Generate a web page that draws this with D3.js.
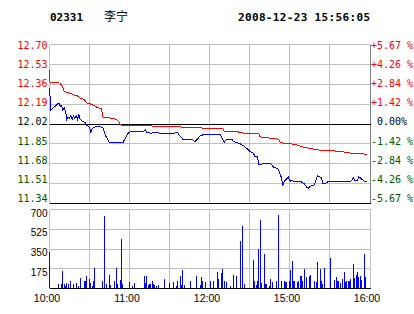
<!DOCTYPE html>
<html>
<head>
<meta charset="utf-8">
<script src="https://cdn.jsdelivr.net/npm/d3@7"></script>
<style>
	body { margin: 0; background: #fff; }
	svg { display: block; }
</style>
</head>
<body>
<svg id="chart"></svg>
<script>
const stockCode = "02331";
const stockName = "李宁";
const stamp = "2008-12-23 15:56:05";
const prevClose = 12.02;

const priceTicks = [12.70, 12.53, 12.36, 12.19, 12.02, 11.85, 11.68, 11.51, 11.34];
const pctLabels = ["+5.67 %", "+4.26 %", "+2.84 %", "+1.42 %", " 0.00%", "-1.42 %", "-2.84 %", "-4.26 %", "-5.67 %"];
const volTicks = [175, 350, 525, 700];
const timeTicks = [0, 60, 120, 180, 240];
const timeLabels = ["10:00", "11:00", "12:00", "15:00", "16:00"];

// [trading minute since 10:00, price]
const priceLine = [[0,12.33],[1,12.14],[7,12.20],[8,12.17],[9,12.18],[10,12.14],[11,12.16],[12,12.13],[13,12.06],[14,12.08],
	[15,12.07],[16,12.09],[17,12.06],[18,12.09],[19,12.07],[20,12.09],[21,12.06],[22,12.10],[23,12.06],[25,12.04],
	[27,12.03],[28,12.01],[30,11.99],[31,11.95],[32,11.98],[33,11.99],[35,12.00],[37,12.00],[40,11.99],[41,11.96],
	[42,11.92],[43,11.90],[45,11.86],[55,11.86],[57,11.90],[59,11.94],[61,11.96],[71,11.96],[72,11.97],[73,11.95],
	[76,11.94],[78,11.95],[81,11.95],[83,11.94],[93,11.94],[96,11.95],[97,11.93],[100,11.89],[107,11.89],[109,11.87],
	[111,11.89],[113,11.92],[116,11.93],[128,11.93],[129,11.91],[131,11.86],[132,11.88],[133,11.89],[137,11.89],[138,11.87],
	[141,11.86],[143,11.85],[146,11.83],[148,11.81],[151,11.78],[153,11.77],[154,11.74],[156,11.74],[157,11.67],[158,11.67],
	[160,11.68],[166,11.68],[167,11.67],[168,11.65],[171,11.64],[172,11.62],[173,11.59],[174,11.56],[175,11.49],[176,11.53],
	[178,11.55],[179,11.57],[180,11.54],[181,11.53],[182,11.54],[183,11.53],[188,11.53],[191,11.51],[193,11.48],[194,11.47],
	[196,11.49],[198,11.49],[199,11.51],[201,11.58],[202,11.57],[204,11.56],[205,11.51],[207,11.51],[209,11.53],[226,11.53],
	[228,11.56],[229,11.54],[231,11.54],[232,11.57],[233,11.56],[236,11.53],[238,11.53]];

const avgLine = [[0,12.48],[0,12.38],[8,12.37],[10,12.33],[11,12.30],[13,12.29],[16,12.28],[18,12.27],[21,12.26],[23,12.24],
	[26,12.23],[28,12.20],[31,12.19],[33,12.18],[36,12.16],[39,12.15],[40,12.08],[46,12.07],[50,12.06],[52,12.04],
	[53,12.02],[54,12.01],[76,12.01],[77,12.00],[98,12.00],[99,11.99],[114,11.99],[115,11.98],[130,11.98],[131,11.96],
	[141,11.96],[142,11.95],[146,11.94],[157,11.94],[158,11.91],[172,11.89],[173,11.86],[181,11.85],[186,11.84],[191,11.82],
	[196,11.81],[201,11.80],[206,11.79],[213,11.79],[221,11.78],[226,11.77],[231,11.77],[238,11.76]];

const volume = [[0,315],[7,35],[9,35],[10,147],[11,35],[12,20],[13,44],[14,35],[16,65],[18,35],[20,44],[22,22],[23,88],
	[26,65],[27,65],[28,103],[30,82],[31,47],[32,20],[33,59],[34,177],[40,59],[41,640],[43,38],[45,118],[46,29],[49,65],
	[50,177],[51,35],[53,73],[54,434],[55,35],[60,50],[62,20],[64,44],[71,109],[72,44],[73,109],[74,29],[75,38],[76,38],
	[77,65],[78,35],[79,29],[80,20],[82,29],[86,79],[90,44],[93,50],[95,20],[96,59],[98,109],[99,25],[100,162],[101,29],
	[106,59],[110,109],[113,29],[114,97],[115,65],[117,50],[121,65],[123,65],[126,141],[127,79],[129,133],[130,171],[131,65],
	[133,50],[136,20],[138,118],[140,109],[143,413],[145,552],[146,38],[153,251],[154,65],[155,29],[156,65],[157,345],
	[158,605],[159,44],[161,304],[162,35],[163,35],[165,20],[166,79],[167,50],[170,59],[172,649],[174,59],[176,59],[177,50],
	[178,50],[180,59],[181,162],[182,236],[183,59],[184,65],[186,50],[187,59],[188,109],[189,103],[190,65],[191,171],[193,94],
	[195,103],[196,118],[199,59],[200,50],[201,227],[203,171],[204,65],[205,38],[206,180],[211,268],[214,73],[215,97],
	[216,59],[217,65],[218,44],[220,79],[221,138],[222,50],[223,59],[224,65],[225,59],[226,79],[228,215],[229,88],[230,118],
	[231,138],[232,94],[233,109],[234,73],[236,304],[237,97]];

const width = 414, height = 314;
const left = 49.5, right = 370.5;
const grey = "#c0c0c0", red = "#ff0000", green = "#005500", blue = "#0000ff";

const svg = d3.select("#chart")
	.attr("width", width)
	.attr("height", height);

const x = d3.scaleLinear().domain([0, 240]).range([49.5, 369.5]);
const y = d3.scaleLinear().domain([11.34, 12.70]).range([203.5, 44.5]);
const yLab = d3.scaleLinear().domain([11.34, 12.70]).range([198.3, 45.3]);
const v = d3.scaleLinear().domain([0, 700]).range([288.5, 209.5]);

const priceColor = p => p > prevClose ? red : (p < prevClose ? green : "#000");

// header
svg.append("text")
	.attr("x", 50).attr("y", 20.5)
	.attr("font-family", "DejaVu Sans Mono").attr("font-weight", "bold").attr("font-size", "11px")
	.text(stockCode);
svg.append("text")
	.attr("x", 104).attr("y", 20.5)
	.attr("font-family", "Noto Sans CJK SC").attr("font-size", "12px")
	.text(stockName);
svg.append("text")
	.attr("x", 370).attr("y", 20.5)
	.attr("text-anchor", "end")
	.attr("font-family", "DejaVu Sans Mono").attr("font-weight", "bold").attr("font-size", "11px")
	.attr("textLength", 132).attr("lengthAdjust", "spacing")
	.text(stamp);

const grid = svg.append("g").attr("shape-rendering", "crispEdges");

// price grid
grid.selectAll(".hp")
	.data(priceTicks.filter(p => p !== prevClose && p !== 11.34))
	.enter().append("line")
	.attr("x1", left).attr("x2", right)
	.attr("y1", d => y(d)).attr("y2", d => y(d))
	.attr("stroke", grey);

grid.selectAll(".vp")
	.data(d3.range(0, 240, 30))
	.enter().append("line")
	.attr("x1", d => x(d)).attr("x2", d => x(d))
	.attr("y1", y(12.70)).attr("y2", y(11.34))
	.attr("stroke", grey);

// volume grid
grid.selectAll(".hv")
	.data(volTicks)
	.enter().append("line")
	.attr("x1", left).attr("x2", right)
	.attr("y1", d => v(d)).attr("y2", d => v(d))
	.attr("stroke", grey);

grid.selectAll(".vv")
	.data(d3.range(0, 240, 30))
	.enter().append("line")
	.attr("x1", d => x(d)).attr("x2", d => x(d))
	.attr("y1", v(700)).attr("y2", v(0))
	.attr("stroke", grey);

grid.append("line")
	.attr("x1", right).attr("x2", right)
	.attr("y1", v(700)).attr("y2", v(0))
	.attr("stroke", grey);

grid.append("line")
	.attr("x1", right).attr("x2", right)
	.attr("y1", y(12.70)).attr("y2", y(11.34))
	.attr("stroke", "#808080");

// black reference lines
[y(prevClose), y(11.34), v(0)].forEach(yy => {
	grid.append("line")
		.attr("x1", left).attr("x2", right)
		.attr("y1", yy).attr("y2", yy)
		.attr("stroke", "#000");
});

// price labels
svg.append("g").selectAll("text")
	.data(priceTicks)
	.enter().append("text")
	.attr("x", 47.5)
	.attr("y", d => yLab(d))
	.attr("dy", "0.36em")
	.attr("text-anchor", "end")
	.attr("font-family", "DejaVu Sans Mono").attr("font-size", "10px")
	.attr("fill", priceColor)
	.text(d => d.toFixed(2));

svg.append("g").selectAll("text")
	.data(priceTicks)
	.enter().append("text")
	.attr("x", 371)
	.attr("y", d => yLab(d))
	.attr("dy", "0.36em")
	.attr("font-family", "DejaVu Sans Mono").attr("font-size", "10px")
	.attr("fill", priceColor)
	.style("white-space", "pre")
	.text((d, i) => pctLabels[i]);

// volume labels
svg.append("g").selectAll("text")
	.data(volTicks)
	.enter().append("text")
	.attr("x", 47.5)
	.attr("y", d => v(d) + 7)
	.attr("text-anchor", "end")
	.attr("font-family", "'Liberation Sans Narrow', 'Liberation Sans', sans-serif").attr("font-size", "10px")
	.text(d => d);

// time labels
svg.append("g").selectAll("text")
	.data(timeTicks)
	.enter().append("text")
	.attr("x", d => x(d) - 2.5)
	.attr("y", 302)
	.attr("text-anchor", "middle")
	.attr("font-family", "'Liberation Sans Narrow', 'Liberation Sans', sans-serif").attr("font-size", "10.5px")
	.text((d, i) => timeLabels[i]);

// volume bars
svg.append("g")
	.attr("shape-rendering", "crispEdges")
	.selectAll("rect")
	.data(volume)
	.enter().append("rect")
	.attr("x", d => Math.round(x(d[0]) - 0.5))
	.attr("y", d => v(d[1]) - 0.5)
	.attr("width", 1)
	.attr("height", d => v(0) - v(d[1]))
	.attr("fill", blue);

// lines
const line = d3.line().x(d => x(d[0])).y(d => y(d[1]));

svg.append("path")
	.datum(avgLine)
	.attr("d", line)
	.attr("fill", "none")
	.attr("stroke", red)
	.attr("shape-rendering", "crispEdges");

svg.append("path")
	.datum(priceLine)
	.attr("d", line)
	.attr("fill", "none")
	.attr("stroke", blue)
	.attr("shape-rendering", "crispEdges");
</script>
</body>
</html>
